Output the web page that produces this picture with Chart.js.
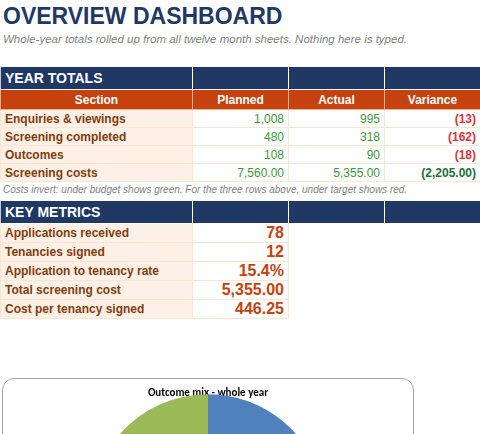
<!DOCTYPE html>
<html><head><meta charset="utf-8">
<script src="https://cdn.jsdelivr.net/npm/chart.js@4"></script>
<style>
body{margin:0;width:480px;height:434px;overflow:hidden;background:#fff;font-family:Arial,"Liberation Sans",sans-serif;position:relative}
h1{position:absolute;left:3px;top:3px;margin:0;font-size:23px;color:#1f3864;font-weight:bold}
.sub{position:absolute;left:3px;top:33px;font-size:11.5px;font-style:italic;color:#7f7f7f}
table{position:absolute;left:0;border-collapse:collapse;table-layout:fixed;font-size:12px}
td{padding:0 4px;border:1px solid #fce4d0;white-space:nowrap;overflow:hidden}
.navy td{background:#1f3864;color:#fff;font-weight:bold;font-size:14px;border:1px solid #fff;border-left:1px solid #c9c9c9}
.hdr td{background:#c5420f;color:#fff;font-weight:bold;text-align:center;border-color:#f4b183}
.lab{background:#fdf0e6;color:#843c0c;font-weight:bold}
.g{color:#3c9a3c;text-align:right}.r{color:#e0303a;text-align:right;font-weight:bold}.dg{color:#216e39;text-align:right;font-weight:bold}
.note{position:absolute;left:3px;top:184px;font-size:10px;font-style:italic;color:#808080}
.big{color:#c5420f;font-weight:bold;font-size:16px;text-align:right}
#box{position:absolute;left:2px;top:378px;width:410px;height:250px;border:1px solid #a6a6a6;border-radius:12px;overflow:hidden}
</style></head><body>
<h1>OVERVIEW DASHBOARD</h1>
<div class="sub">Whole-year totals rolled up from all twelve month sheets. Nothing here is typed.</div>
<table style="top:66px;width:480px">
<colgroup><col style="width:192px"><col style="width:96px"><col style="width:96px"><col style="width:96px"></colgroup>
<tr class="navy" style="height:23px"><td>YEAR TOTALS</td><td></td><td></td><td></td></tr>
<tr class="hdr" style="height:20px"><td>Section</td><td>Planned</td><td>Actual</td><td>Variance</td></tr>
<tr style="height:18px"><td class="lab">Enquiries &amp; viewings</td><td class="g">1,008</td><td class="g">995</td><td class="r">(13)</td></tr>
<tr style="height:18px"><td class="lab">Screening completed</td><td class="g">480</td><td class="g">318</td><td class="r">(162)</td></tr>
<tr style="height:18px"><td class="lab">Outcomes</td><td class="g">108</td><td class="g">90</td><td class="r">(18)</td></tr>
<tr style="height:18px"><td class="lab">Screening costs</td><td class="g">7,560.00</td><td class="g">5,355.00</td><td class="dg">(2,205.00)</td></tr>
</table>
<div class="note">Costs invert: under budget shows green. For the three rows above, under target shows red.</div>
<table style="top:200px;width:480px">
<colgroup><col style="width:192px"><col style="width:96px"><col style="width:96px"><col style="width:96px"></colgroup>
<tr class="navy" style="height:23px"><td>KEY METRICS</td><td></td><td></td><td></td></tr>
<tr style="height:19px"><td class="lab">Applications received</td><td class="big">78</td><td style="border:none"></td><td style="border:none"></td></tr>
<tr style="height:19px"><td class="lab">Tenancies signed</td><td class="big">12</td><td style="border:none"></td><td style="border:none"></td></tr>
<tr style="height:19px"><td class="lab">Application to tenancy rate</td><td class="big">15.4%</td><td style="border:none"></td><td style="border:none"></td></tr>
<tr style="height:19px"><td class="lab">Total screening cost</td><td class="big">5,355.00</td><td style="border:none"></td><td style="border:none"></td></tr>
<tr style="height:19px"><td class="lab">Cost per tenancy signed</td><td class="big">446.25</td><td style="border:none"></td><td style="border:none"></td></tr>
</table>
<div id="box"><canvas id="pie" width="410" height="250"></canvas></div>
<script>
// Outcome mix – whole year (only the top of the pie is visible)
const outcomeLabels = ['Tenancies signed', 'Declined', 'Withdrawn'];
const outcomeValues = [40, 26, 24];
const outcomeColors = ['#4f81bd', '#c0504d', '#9bbb59'];

new Chart(document.getElementById('pie'), {
    type: 'pie',
    data: {
        labels: outcomeLabels,
        datasets: [{ data: outcomeValues, backgroundColor: outcomeColors, borderWidth: 0 }]
    },
    options: {
        responsive: false,
        animation: false,
        layout: { padding: { top: 0, left: 82, right: 82, bottom: 0 } },
        plugins: {
            legend: { display: false },
            tooltip: { enabled: false },
            title: {
                display: true, text: 'Outcome mix - whole year', color: '#000',
                font: { family: 'Calibri, Carlito, Arial', size: 11, weight: 'bold' },
                padding: { top: 8, bottom: -6 }
            }
        }
    }
});
</script>
</body></html>
